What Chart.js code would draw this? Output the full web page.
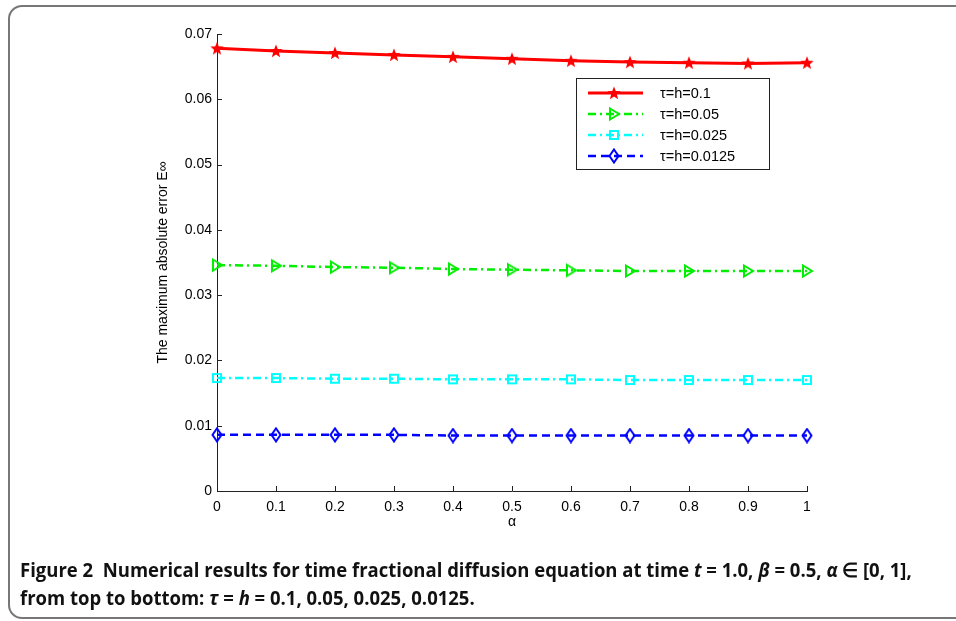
<!DOCTYPE html>
<html>
<head>
<meta charset="utf-8">
<script src="https://cdn.jsdelivr.net/npm/chart.js@4/dist/chart.umd.min.js"></script>
<style>
  html, body { margin: 0; padding: 0; background: #fff; overflow: hidden; }
  body { width: 956px; height: 621px; position: relative; }
  #frame {
    position: absolute; left: 8px; top: 5px; width: 1000px; height: 614px;
    border: 2px solid #777; border-radius: 14px; box-sizing: border-box;
  }
  #wrap { position: absolute; left: 0; top: 0; width: 956px; height: 621px; }
  #caption {
    position: absolute; left: 20px; top: 556px; white-space: nowrap;
    font-family: "Open Sans", sans-serif; font-weight: bold; font-size: 20px;
    line-height: 28px; color: #111; transform-origin: 0 0; transform: scaleX(0.925);
  }
  #caption i { font-weight: bold; }
</style>
</head>
<body>
<div id="frame"></div>
<div id="wrap"><canvas id="errChart" width="956" height="621"></canvas></div>
<div id="caption">Figure 2&nbsp; Numerical results for time fractional diffusion equation at time <i>t</i> = 1.0, <i>β</i> = 0.5, <i>α</i> ∈ [0, 1],<br>from top to bottom: <i>τ</i> = <i>h</i> = 0.1, 0.05, 0.025, 0.0125.</div>
<script>
// data
var alpha = [0, 0.1, 0.2, 0.3, 0.4, 0.5, 0.6, 0.7, 0.8, 0.9, 1];
var err01 = [0.0678, 0.0674, 0.0671, 0.0668, 0.0665, 0.0662, 0.0659, 0.0657, 0.0656, 0.0655, 0.0656];
var err005 = [0.0346, 0.0345, 0.0343, 0.0342, 0.0340, 0.0339, 0.0338, 0.0337, 0.0337, 0.0337, 0.0337];
var err0025 = [0.0173, 0.0173, 0.0172, 0.0172, 0.0171, 0.0171, 0.0171, 0.0170, 0.0170, 0.0170, 0.0170];
var err00125 = [0.0086, 0.0086, 0.0086, 0.0086, 0.0085, 0.0085, 0.0085, 0.0085, 0.0085, 0.0085, 0.0085];
var seriesLabels = ["τ=h=0.1", "τ=h=0.05", "τ=h=0.025", "τ=h=0.0125"];

var FONT = '"Liberation Sans", Arial, sans-serif';

function pts(ys) {
  return alpha.map(function (a, i) { return {x: a, y: ys[i]}; });
}

// marker images
function marker(shape, color) {
  var c = document.createElement('canvas');
  c.width = 16; c.height = 16;
  var g = c.getContext('2d');
  var cx = 8, cy = 8;
  g.strokeStyle = color; g.fillStyle = color; g.lineWidth = 2;
  g.beginPath();
  if (shape === 'star') {
    for (var k = 0; k < 10; k++) {
      var r = k % 2 === 0 ? 7 : 3;
      var ang = -Math.PI / 2 + k * Math.PI / 5;
      g.lineTo(cx + r * Math.cos(ang), cy + 0.5 + r * Math.sin(ang));
    }
    g.closePath(); g.fill();
  } else if (shape === 'tri') {
    g.moveTo(cx - 4, cy - 5.5); g.lineTo(cx + 5, cy); g.lineTo(cx - 4, cy + 5.5);
    g.closePath(); g.stroke();
  } else if (shape === 'square') {
    g.rect(cx - 4, cy - 4, 8, 8); g.stroke();
  } else {
    g.moveTo(cx, cy - 6.5); g.lineTo(cx + 4.5, cy); g.lineTo(cx, cy + 6.5); g.lineTo(cx - 4.5, cy);
    g.closePath(); g.stroke();
  }
  return c;
}

var tickMarks = {
  id: 'tickMarks',
  afterDraw: function (chart) {
    var ctx = chart.ctx, xs = chart.scales.x, ys = chart.scales.y;
    ctx.save();
    ctx.strokeStyle = '#222'; ctx.lineWidth = 1;
    ctx.beginPath();
    xs.ticks.forEach(function (t) {
      var px = Math.round(xs.getPixelForValue(t.value)) + 0.5;
      ctx.moveTo(px, ys.bottom); ctx.lineTo(px, ys.bottom - 5);
    });
    ys.ticks.forEach(function (t) {
      var py = Math.round(ys.getPixelForValue(t.value)) + 0.5;
      ctx.moveTo(xs.left, py); ctx.lineTo(xs.left + 5, py);
    });
    ctx.stroke();
    ctx.restore();
  }
};

var boxLegend = {
  id: 'boxLegend',
  afterDraw: function (chart) {
    var ctx = chart.ctx;
    ctx.save();
    ctx.fillStyle = '#fff';
    ctx.fillRect(576, 78, 193, 91);
    ctx.strokeStyle = '#222'; ctx.lineWidth = 1;
    ctx.strokeRect(576.5, 78.5, 193, 91);
    var rows = [93, 114, 135, 156];
    chart.data.datasets.forEach(function (ds, i) {
      var y = rows[i];
      ctx.strokeStyle = ds.borderColor; ctx.lineWidth = ds.borderWidth;
      ctx.setLineDash(ds.borderDash || []);
      ctx.beginPath(); ctx.moveTo(588, y); ctx.lineTo(643, y); ctx.stroke();
      ctx.setLineDash([]);
      var img = ds.pointStyle;
      ctx.drawImage(img, 614 - img.width / 2, y - img.height / 2);
      ctx.fillStyle = '#000';
      ctx.font = '14.5px ' + FONT;
      ctx.textBaseline = 'middle';
      ctx.fillText(ds.label, 660, y + 1);
    });
    ctx.restore();
  }
};

var ctx = document.getElementById('errChart').getContext('2d');
var errChart = new Chart(ctx, {
  type: 'line',
  data: {
    datasets: [
      { label: seriesLabels[0], data: pts(err01), borderColor: '#ff0000', borderWidth: 3,
        pointStyle: marker('star', '#ff0000'), clip: false },
      { label: seriesLabels[1], data: pts(err005), borderColor: '#00ee00', borderWidth: 2.5,
        borderDash: [8, 4, 2, 4], pointStyle: marker('tri', '#00ee00'), clip: false },
      { label: seriesLabels[2], data: pts(err0025), borderColor: '#00ffff', borderWidth: 2.5,
        borderDash: [8, 4, 2, 4], pointStyle: marker('square', '#00ffff'), clip: false },
      { label: seriesLabels[3], data: pts(err00125), borderColor: '#0000ff', borderWidth: 2.5,
        borderDash: [8, 5], pointStyle: marker('diamond', '#0000ff'), clip: false }
    ]
  },
  options: {
    responsive: false,
    animation: false,
    layout: { padding: { left: 153, right: 149, top: 34, bottom: 88 } },
    elements: { line: { tension: 0, fill: false } },
    plugins: { legend: { display: false }, tooltip: { enabled: false } },
    scales: {
      x: {
        type: 'linear', min: 0, max: 1,
        afterFit: function (s) { s.height = 42; },
        ticks: { stepSize: 0.1, color: '#000', padding: 8, maxRotation: 0,
          callback: function (v) { return String(Math.round(v * 10) / 10); },
          font: { family: FONT, size: 14 } },
        grid: { drawOnChartArea: false, drawTicks: false },
        border: { display: true, color: '#222', width: 1 },
        title: { display: true, text: 'α', color: '#000', padding: 2,
          font: { family: FONT, size: 14 } }
      },
      y: {
        min: 0, max: 0.07,
        afterFit: function (s) { s.width = 64; },
        ticks: { stepSize: 0.01, color: '#000', padding: 5,
          callback: function (v) { return String(Math.round(v * 100) / 100); },
          font: { family: FONT, size: 14 } },
        grid: { drawOnChartArea: false, drawTicks: false },
        border: { display: true, color: '#222', width: 1 },
        title: { display: true, text: 'The maximum absolute error E∞', color: '#000', padding: 2,
          font: { family: FONT, size: 14 } }
      }
    }
  },
  plugins: [tickMarks, boxLegend]
});
</script>
</body>
</html>
